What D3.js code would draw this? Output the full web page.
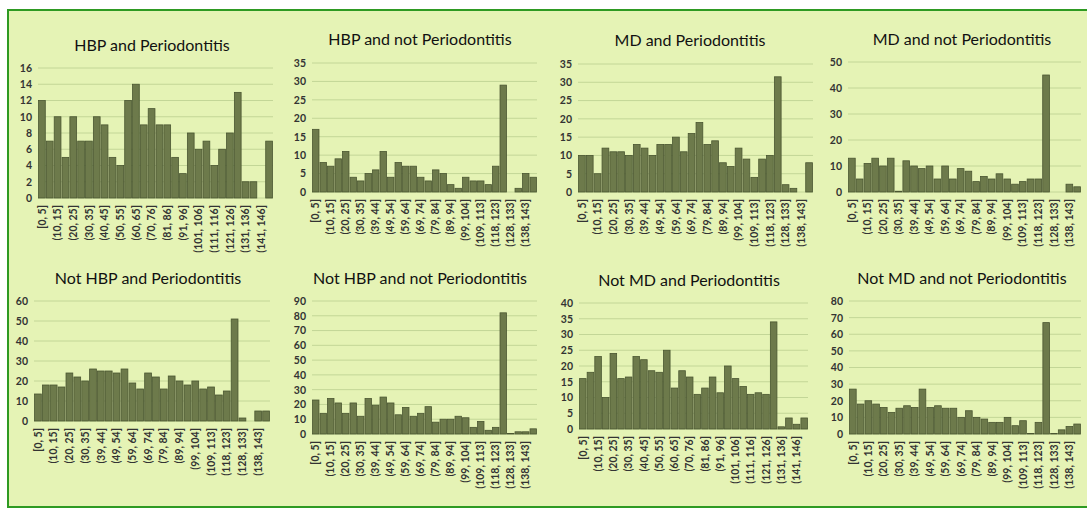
<!DOCTYPE html>
<html><head><meta charset="utf-8">
<script src="https://cdn.jsdelivr.net/npm/d3@7"></script>
<style>
body{margin:0;background:#fff;}
svg{display:block;}
</style></head>
<body>
<svg id="c" width="1087" height="509"></svg>
<script>
// ---- data ----
const binsA = ["[0, 5]","(5, 10]","(10, 15]","(15, 20]","(20, 25]","(25, 30]","(30, 35]","(35, 40]","(40, 45]","(45, 50]","(50, 55]","(55, 60]","(60, 65]","(65, 70]","(70, 76]","(76, 81]","(81, 86]","(86, 91]","(91, 96]","(96, 101]","(101, 106]","(106, 111]","(111, 116]","(116, 121]","(121, 126]","(126, 131]","(131, 136]","(136, 141]","(141, 146]","(146, 151]"];
const binsB = ["[0, 5]","(5, 10]","(10, 15]","(15, 20]","(20, 25]","(25, 30]","(30, 35]","(35, 39]","(39, 44]","(44, 49]","(49, 54]","(54, 59]","(59, 64]","(64, 69]","(69, 74]","(74, 79]","(79, 84]","(84, 89]","(89, 94]","(94, 99]","(99, 104]","(104, 109]","(109, 113]","(113, 118]","(118, 123]","(123, 128]","(128, 133]","(133, 138]","(138, 143]","(143, 148]"];

const titles = ["HBP and Periodontitis","HBP and not Periodontitis","MD and Periodontitis","MD and not Periodontitis",
  "Not HBP and Periodontitis","Not HBP and not Periodontitis","Not MD and Periodontitis","Not MD and not Periodontitis"];

const hbpPerio     = [12,7,10,5,10,7,7,10,9,5,4,12,14,9,11,9,9,5,3,8,6,7,4,6,8,13,2,2,0,7];
const hbpNotPerio  = [17,8,7,9,11,4,3,5,6,11,4,8,7,7,4,3,6,5,2,1,4,3,3,2,7,29,0,1,5,4];
const mdPerio      = [10,10,5,12,11,11,10,13,12,10,13,13,15,11,16,19,13,14,8,7,12,9,4,9,10,31.5,2,1,0,8];
const mdNotPerio   = [13,5,11,13,10,13,0.3,12,10,9,10,5,10,5,9,8,4,6,5,7,5,3,4,5,5,45,0,0,3,2];
const notHbpPerio  = [13.5,18,18,17,24,22,20,26,25,25,24,26,19,16,24,22,16,22.5,20,18,20,16,17,13,15,51,1.5,0,5,5];
const notHbpNotPerio = [23,14,24,21,14,21,12,24,19.5,25,21,13,18,12,14,18.5,8,10,10,12,11,4.5,8.5,2.5,4.5,82,0.3,1.5,1.5,3.5];
const notMdPerio   = [16,18,23,10,24,16,16.5,23,22,18.5,18,25,13,18.5,16.5,11,13,16.5,11.5,20,16,13.5,11,11.5,11,34,0.7,3.5,1.5,3.5];
const notMdNotPerio = [27,18,20,18,16,13,15.5,17,16,27,16,17,15.5,15.5,10,14,10,9,7,7,10,5,8,0.3,7,67,0.3,2.5,4.5,6];

const yMax  = [16,35,35,50,60,90,40,80];
const yStep = [2,5,5,10,10,10,5,10];

const seriesList = [hbpPerio,hbpNotPerio,mdPerio,mdNotPerio,notHbpPerio,notHbpNotPerio,notMdPerio,notMdNotPerio];
const binList = [binsA,binsB,binsB,binsB,binsB,binsB,binsA,binsB];

// ---- layout ----
const layout = [
  {x0:38, x1:273, y0:68, y1:198, tx:152, ty:51},
  {x0:312,x1:537, y0:63, y1:192, tx:420, ty:45},
  {x0:578,x1:813, y0:64, y1:192, tx:690, ty:46},
  {x0:848,x1:1081,y0:62, y1:192, tx:962, ty:45},
  {x0:34, x1:270, y0:301,y1:421, tx:148, ty:284},
  {x0:312,x1:537, y0:301,y1:434, tx:420, ty:284},
  {x0:579,x1:808, y0:303,y1:429, tx:689, ty:286},
  {x0:849,x1:1081,y0:301,y1:434, tx:962, ty:284}
];

const svg = d3.select("#c");
const font = "Lato, 'Open Sans', sans-serif";

svg.append("rect").attr("x",8).attr("y",10).attr("width",1100).attr("height",497)
  .attr("fill","#e5f3b5").attr("stroke","#2e9a22").attr("stroke-width",2);

seriesList.forEach((vals,i)=>{
  const L = layout[i];
  const bins = binList[i];
  const g = svg.append("g");
  const x = d3.scaleBand().domain(bins).range([L.x0,L.x1]).paddingInner(0.14).paddingOuter(0.07);
  const y = d3.scaleLinear().domain([0,yMax[i]]).range([L.y1,L.y0]);
  const ticks = d3.range(0,yMax[i]+0.001,yStep[i]);

  g.selectAll("line.grid").data(ticks).join("line")
    .attr("x1",L.x0).attr("x2",L.x1).attr("y1",d=>y(d)).attr("y2",d=>y(d))
    .attr("stroke","#c3d697").attr("stroke-width",1);

  const yAxis = d3.axisLeft(y).tickValues(ticks).tickSize(0).tickPadding(6).tickFormat(d3.format("d"));
  const ya = g.append("g").attr("transform",`translate(${L.x0},0)`).call(yAxis);
  ya.select(".domain").remove();
  ya.selectAll("text").attr("font-family",font).attr("font-size",10.5).attr("font-weight",700).attr("fill","#333");

  g.selectAll("rect.bar").data(vals).join("rect")
    .attr("x",(d,j)=>x(bins[j])).attr("width",x.bandwidth())
    .attr("y",d=>y(d)).attr("height",d=>L.y1-y(d))
    .attr("fill","#6d7a4b").attr("stroke","#4a5631").attr("stroke-width",0.8);

  const xAxis = d3.axisBottom(x).tickSize(0).tickPadding(0)
    .tickFormat((d,j)=> j%2===0 ? d : "");
  const xa = g.append("g").attr("transform",`translate(0,${L.y1})`).call(xAxis);
  xa.select(".domain").remove();
  xa.selectAll("text").attr("font-family",font).attr("font-size",10.5).attr("font-weight",700).attr("fill","#333")
    .attr("text-anchor","end").attr("dy","0.35em")
    .attr("transform","translate(0,7) rotate(-90)").attr("x",0).attr("y",0);

  g.append("text").attr("x",L.tx).attr("y",L.ty).attr("text-anchor","middle")
    .attr("font-family",font).attr("font-size",16).attr("font-weight",400).attr("fill","#111")
    .text(titles[i]);
});
</script>
</body></html>
